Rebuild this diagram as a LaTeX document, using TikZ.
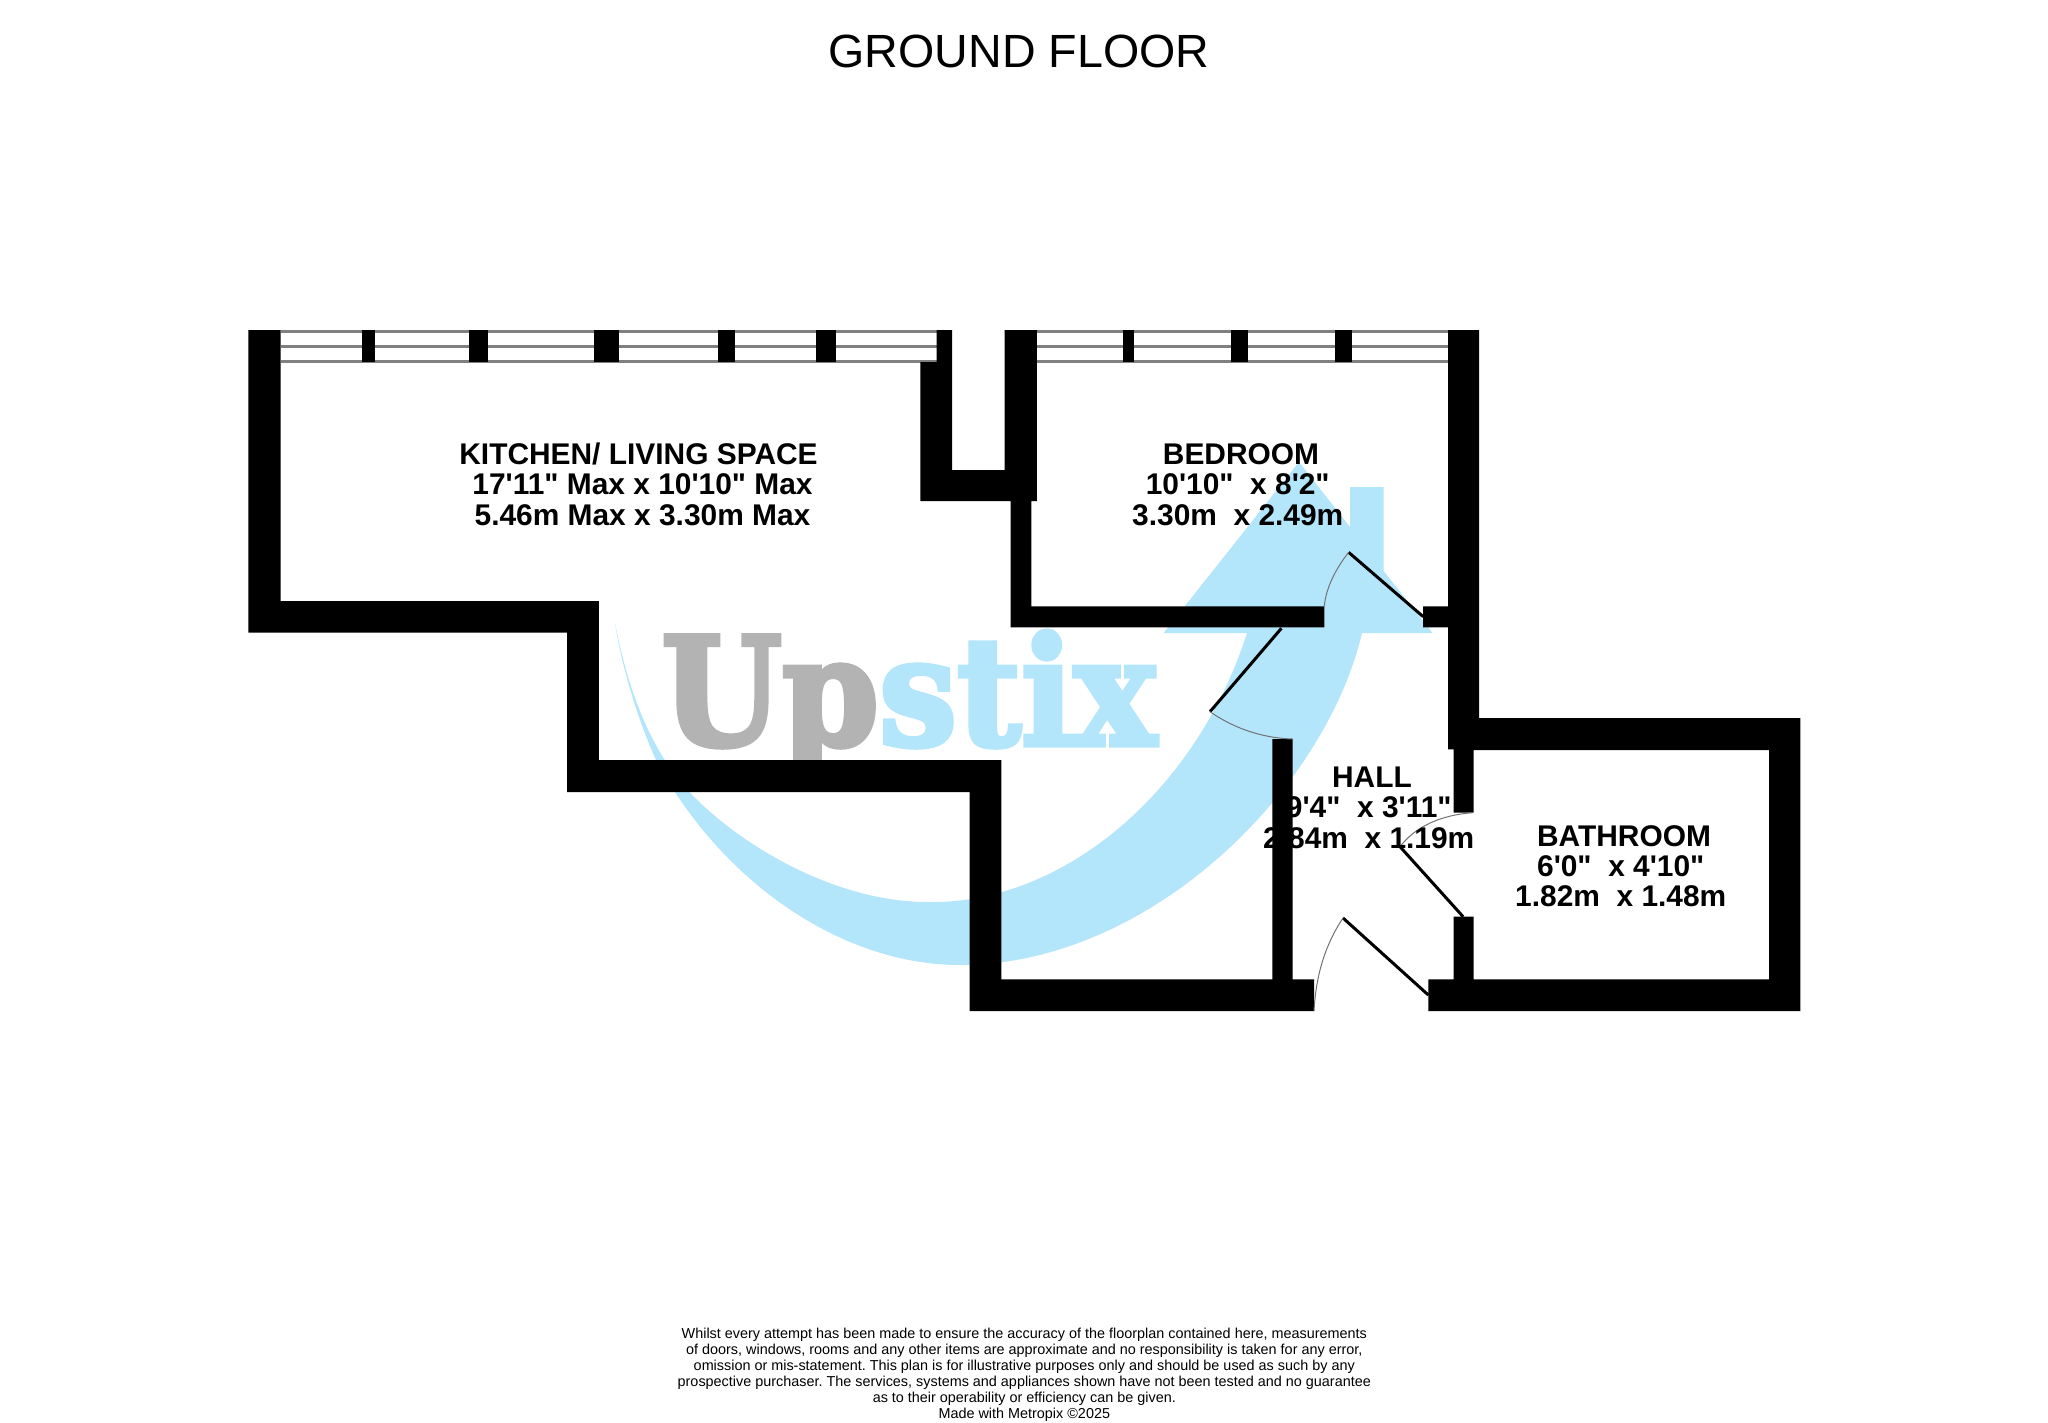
\documentclass[tikz,border=0pt]{standalone}
\usepackage{fontspec}
\usepackage{graphicx}
\newfontfamily\plansans{Liberation Sans}
\newfontfamily\logoserif[FakeBold=3.5]{DejaVu Serif Bold}
\definecolor{swooshblue}{HTML}{B3E5FB}
\definecolor{logogrey}{HTML}{B3B3B3}
\newcommand{\trailgap}{\hspace*{6.5pt}\mbox{}}
\begin{document}
\begin{tikzpicture}[x=1pt,y=-1pt]
		\useasboundingbox (0,0) rectangle (2048,1423);
		\tikzstyle{wall}=[fill=black]
		\tikzstyle{pane}=[draw=black!50,line width=3pt]
		\tikzstyle{leaf}=[draw=black,line width=3pt]
		\tikzstyle{swing}=[draw=black!55,line width=1pt]
		\tikzstyle{room}=[font=\plansans\bfseries\fontsize{29.9}{30.3}\selectfont,align=center,anchor=base,inner sep=0pt]
		\tikzstyle{note}=[font=\plansans\frenchspacing\fontsize{14.4}{16}\selectfont,align=center,anchor=base,inner sep=0pt]
		\fill[swooshblue] (1299,462) -- (1350,527) -- (1350,487) -- (1383.6,487) -- (1383.6,571) -- (1432.5,633) -- (1362,633)
			.. controls (1325,790) and (1150,965) .. (960,965)
			.. controls (840,965) and (720,880) .. (656,760)
			.. controls (640,725) and (622,670) .. (615,623)
			.. controls (628,690) and (650,750) .. (690,792.7)
			.. controls (745,850) and (840,902) .. (927,902)
			.. controls (1060,905) and (1195,795) .. (1247,633)
			-- (1163.6,633) -- cycle;
		\node[anchor=base west,inner sep=0pt] (logo) at (661,745) {\scalebox{.924}[1]{\logoserif\fontsize{150}{150}\selectfont\textcolor{logogrey}{Up}\textcolor{swooshblue}{stix}}};
		\foreach \y in {331,346,361}{
			\draw[pane] (280.5,\y) -- (936.6,\y);
			\draw[pane] (1036.8,\y) -- (1448,\y);
		}
		\foreach \a/\b in {362.1/375.4,469.3/487.7,593.8/618.8,718.3/734.6,816.2/835.6,1123.2/1134,1231.4/1248.2,1335.4/1351.8}{
			\fill[wall] (\a,330) rectangle (\b,362);
		}
		\fill[wall] (248.4,330) -- (280.5,330) -- (280.5,601) -- (598.9,601) -- (598.9,760) -- (1001.4,760) -- (1001.4,979.3) -- (1272.4,979.3) -- (1272.4,739) -- (1292.5,739) -- (1292.5,979.3) -- (1314,979.3) -- (1314,1011) -- (969.7,1011) -- (969.7,792) -- (567.2,792) -- (567.2,632.7) -- (248.4,632.7) -- cycle;
		\fill[wall] (936.6,330) -- (952,330) -- (952,470) -- (1004.6,470) -- (1004.6,330) -- (1036.8,330) -- (1036.8,501) -- (1031.4,501) -- (1031.4,606.3) -- (1324.3,606.3) -- (1324.3,627.3) -- (1010.7,627.3) -- (1010.7,501) -- (920.3,501) -- (920.3,362) -- (936.6,362) -- cycle;
		\fill[wall] (1448,330) -- (1479,330) -- (1479,718) -- (1800.4,718) -- (1800.4,1011) -- (1428.3,1011) -- (1428.3,979.3) -- (1453.5,979.3) -- (1453.5,916.7) -- (1473.7,916.7) -- (1473.7,979.3) -- (1769,979.3) -- (1769,750) -- (1473.7,750) -- (1473.7,812.7) -- (1453.5,812.7) -- (1453.5,749.3) -- (1448,749.3) -- (1448,627.3) -- (1423.2,627.3) -- (1423.2,606.3) -- (1448,606.3) -- cycle;
		\draw[leaf] (1423.2,616.7) -- (1348.6,552.3);
		\draw[swing] (1348.6,552.3) .. controls (1335,570) and (1326,588) .. (1324.3,606.3);
		\draw[leaf] (1281.4,628.3) -- (1210,711.7);
		\draw[swing] (1210,711.7) .. controls (1232,727) and (1260,738) .. (1292.5,739);
		\draw[leaf] (1463.1,916.7) -- (1400,846.7);
		\draw[swing] (1400,846.7) .. controls (1415,827) and (1440,815) .. (1473,812.7);
		\draw[leaf] (1428.3,995) -- (1343,918);
		\draw[swing] (1343,918) .. controls (1325,945) and (1316,975) .. (1314,1011);
		\node[anchor=base,inner sep=0pt,font=\plansans\fontsize{46.6}{48}\selectfont] (title) at (1019,67.5) {GROUND FLOOR};
		\node[room] (kitchen) at (638.5,525) {KITCHEN/ LIVING SPACE\\\hspace*{8pt}17'11" Max x 10'10" Max\\\hspace*{8pt}5.46m Max x 3.30m Max};
		\node[room] (bedroom) at (1241,525) {BEDROOM\\10'10"~ x 8'2"\trailgap\\3.30m~ x 2.49m\trailgap};
		\node[room] (hall) at (1372,848) {HALL\\9'4"~ x 3'11"\trailgap\\2.84m~ x 1.19m\trailgap};
		\node[room] (bathroom) at (1624,906.7) {BATHROOM\\6'0"~ x 4'10"\trailgap\\1.82m~ x 1.48m\trailgap};
		\node[note] (disclaimer) at (1024.3,1418.5) {Whilst every attempt has been made to ensure the accuracy of the floorplan contained here, measurements\\of doors, windows, rooms and any other items are approximate and no responsibility is taken for any error,\\omission or mis-statement. This plan is for illustrative purposes only and should be used as such by any\\prospective purchaser. The services, systems and appliances shown have not been tested and no guarantee\\as to their operability or efficiency can be given.\\Made with Metropix \textcopyright2025};
	\end{tikzpicture}
\end{document}
